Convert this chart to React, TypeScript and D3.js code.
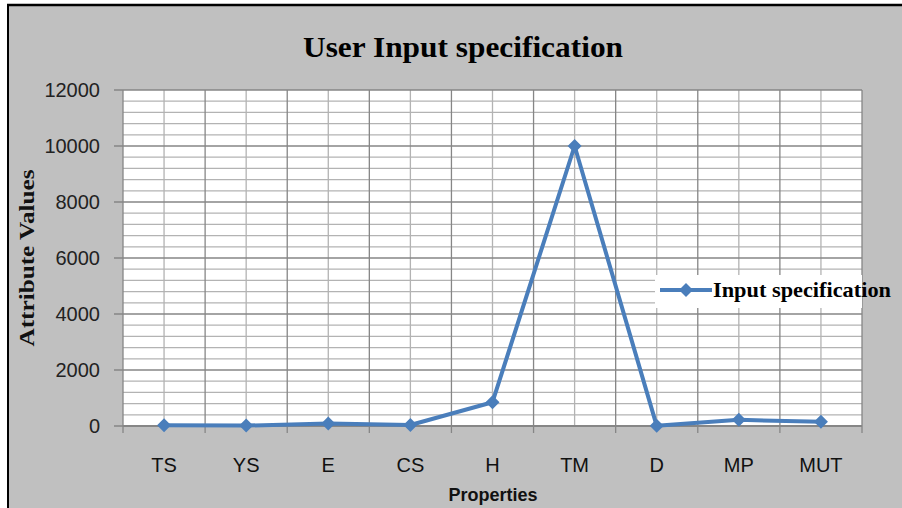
import React from "react";
import * as d3 from "d3";

const categories = ["TS", "YS", "E", "CS", "H", "TM", "D", "MP", "MUT"];
const values = [30, 15, 90, 35, 850, 10000, 5, 220, 150];
const yTicks = [0, 2000, 4000, 6000, 8000, 10000, 12000];
const seriesName = "Input specification";

export default function App() {
  const W = 902, H = 508;
  const left = 123, right = 862, top = 90, bottom = 426;
  const x = d3.scaleBand<string>().domain(categories).range([left, right]);
  const y = d3.scaleLinear().domain([0, 12000]).range([bottom, top]);
  const minorY = d3.range(0, 12001, 400).filter((v) => v % 2000 !== 0);
  const bounds = d3.range(categories.length + 1).map((i) => left + i * x.step());
  const cx = (c: string) => (x(c) as number) + x.bandwidth() / 2;
  const line = d3
    .line<number>()
    .x((_, i) => cx(categories[i]))
    .y((v) => y(v));
  const diamond = (px: number, py: number, r = 7) =>
    `M${px},${py - r}L${px + r},${py}L${px},${py + r}L${px - r},${py}Z`;
  const blue = "#4a7ebb";
  const major = "#868686";
  const minor = "#b3b3b3";

  return (
    <svg width={W} height={H} style={{ position: "absolute", left: 0, top: 0 }}>
      <rect x={0} y={0} width={W} height={H} fill="#ffffff" />
      <rect x={8} y={5} width={W - 8} height={H - 5} fill="#c0c0c0" />
      <line x1={7} x2={W} y1={5} y2={5} stroke="#000" strokeWidth={2.5} />
      <line x1={8} x2={8} y1={4} y2={H} stroke="#000" strokeWidth={2} />
      <rect x={left} y={top} width={right - left} height={bottom - top} fill="#fff" />
      {minorY.map((v) => (
        <line key={"my" + v} x1={left} x2={right} y1={y(v)} y2={y(v)} stroke={minor} strokeWidth={1.3} />
      ))}
      {categories.map((c) => (
        <line key={"cv" + c} x1={cx(c)} x2={cx(c)} y1={top} y2={bottom} stroke={minor} strokeWidth={1.3} />
      ))}
      {bounds.map((b, i) => (
        <line key={"bv" + i} x1={b} x2={b} y1={top} y2={bottom + 7} stroke={major} strokeWidth={1.3} />
      ))}
      {yTicks.map((v) => (
        <line key={"yt" + v} x1={114} x2={right} y1={y(v)} y2={y(v)} stroke={major} strokeWidth={1.5} />
      ))}
      <line x1={left} x2={right} y1={bottom} y2={bottom} stroke={major} strokeWidth={2} />
      {yTicks.map((v) => (
        <text key={"yl" + v} x={100} y={y(v)} dy="0.36em" textAnchor="end"
          fontFamily="Liberation Sans, Arial, sans-serif" fontSize={20} fill="#222">{v}</text>
      ))}
      {categories.map((c) => (
        <text key={"xl" + c} x={cx(c)} y={472} textAnchor="middle"
          fontFamily="Liberation Sans, Arial, sans-serif" fontSize={20} fill="#111">{c}</text>
      ))}
      <text x={493} y={501} textAnchor="middle" fontFamily="Liberation Sans, Arial, sans-serif"
        fontWeight="bold" fontSize={18} fill="#111">Properties</text>
      <text transform="translate(34,258) rotate(-90)" textAnchor="middle"
        fontFamily="Liberation Serif, Times New Roman, serif" fontWeight="bold" fontSize={22}
        textLength={177} lengthAdjust="spacingAndGlyphs" fill="#111">Attribute Values</text>
      <text x={463} y={57} textAnchor="middle" fontFamily="Liberation Serif, Times New Roman, serif"
        fontWeight="bold" fontSize={29} textLength={320} lengthAdjust="spacingAndGlyphs" fill="#000">
        User Input specification
      </text>
      <path d={line(values) || ""} fill="none" stroke={blue} strokeWidth={4} strokeLinejoin="round" />
      {values.map((v, i) => (
        <path key={"m" + i} d={diamond(cx(categories[i]), y(v))} fill={blue} />
      ))}
      <rect x={655} y={275} width={right - 655} height={33} fill="#fff" />
      <line x1={660} x2={712} y1={290} y2={290} stroke={blue} strokeWidth={4} />
      <path d={diamond(686, 290)} fill={blue} />
      <text x={713} y={297} fontFamily="Liberation Serif, Times New Roman, serif" fontWeight="bold"
        fontSize={22} textLength={178} lengthAdjust="spacingAndGlyphs" fill="#000">{seriesName}</text>
    </svg>
  );
}
